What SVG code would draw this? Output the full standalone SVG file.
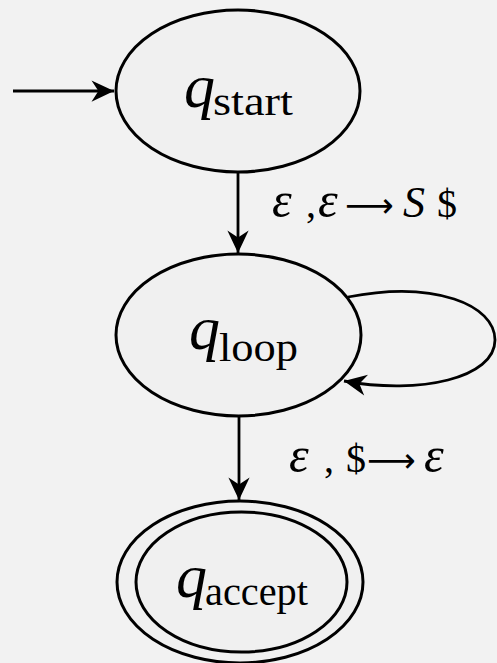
<svg xmlns="http://www.w3.org/2000/svg" width="497" height="663" viewBox="0 0 497 663">
<style>
.bg{fill:#f2f2f2}
.st{fill:#f0f0f0;stroke:#000;stroke-width:3}
.ln{fill:none;stroke:#000;stroke-width:2.8}
.q{font-family:"Liberation Serif",serif;font-style:italic;font-size:62px}
.sub{font-family:"Liberation Serif",serif;font-size:40px}
.lab{font-family:"Liberation Serif",serif;font-size:40px}
.it{font-style:italic}
.eps{font-style:italic;font-size:50px}
.arr{font-family:"DejaVu Sans",sans-serif;font-size:34px}
</style>
<defs>
<marker id="ah" markerUnits="userSpaceOnUse" markerWidth="30" markerHeight="30" viewBox="-20 -10 24 20" refX="0" refY="0" orient="auto">
<path d="M0,0 L-18,-8.5 L-12.5,0 L-18,8.5 Z" fill="#000"/>
</marker>
</defs>
<rect class="bg" x="0" y="0" width="497" height="663"/>
<g id="edges">
<line class="ln" x1="13" y1="91" x2="114" y2="91" marker-end="url(#ah)"/>
<line class="ln" x1="238" y1="172" x2="238" y2="253" marker-end="url(#ah)"/>
<line class="ln" x1="239" y1="416" x2="239" y2="500" marker-end="url(#ah)"/>
<path class="ln" d="M348,297 C435,280 495,305 495,340 C495,378 420,395 344,381" marker-end="url(#ah)"/>
<text class="lab" id="lab1"><tspan class="eps" x="272" y="217">ε</tspan><tspan x="306" y="217">,</tspan><tspan class="eps" x="318" y="217">ε</tspan><tspan class="arr" x="345" y="217">⟶</tspan><tspan class="it" x="403" y="217" font-size="44">S</tspan><tspan x="437" y="217">$</tspan></text>
<text class="lab" id="lab2"><tspan class="eps" x="289" y="472">ε</tspan><tspan x="324" y="472">,</tspan><tspan x="346" y="472">$</tspan><tspan class="arr" x="367" y="472">⟶</tspan><tspan class="eps" x="424" y="472">ε</tspan></text>
</g>
<g id="q_start">
<ellipse class="st" cx="238" cy="91" rx="122" ry="81"/>
<text><tspan class="q" x="184" y="107">q</tspan><tspan class="sub" x="213" y="115" textLength="80" lengthAdjust="spacingAndGlyphs">start</tspan></text>
</g>
<g id="q_loop">
<ellipse class="st" cx="238.5" cy="335" rx="122.5" ry="81"/>
<text><tspan class="q" x="189" y="349">q</tspan><tspan class="sub" x="219" y="361" textLength="79" lengthAdjust="spacingAndGlyphs">loop</tspan></text>
</g>
<g id="q_accept">
<ellipse class="st" cx="240" cy="582" rx="123" ry="81"/>
<ellipse class="st" cx="241.5" cy="582" rx="105.5" ry="70"/>
<text><tspan class="q" x="176" y="597">q</tspan><tspan class="sub" x="205" y="605" textLength="103" lengthAdjust="spacingAndGlyphs">accept</tspan></text>
</g>
</svg>
